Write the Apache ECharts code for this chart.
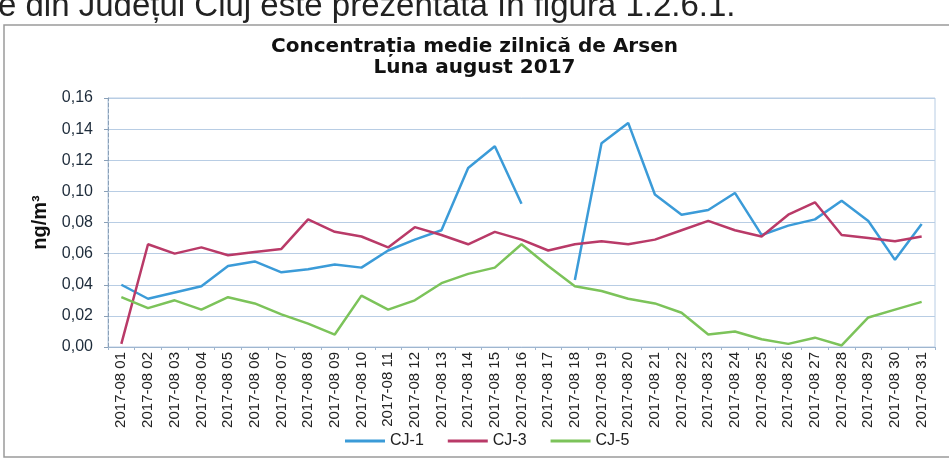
<!DOCTYPE html>
<html>
<head>
<meta charset="utf-8">
<script src="https://cdn.jsdelivr.net/npm/echarts@6/dist/echarts.min.js"></script>
<style>
  html, body { margin: 0; padding: 0; background: #fff; }
  #main { width: 949px; height: 461px; }
</style>
</head>
<body>
<div id="main"></div>
<script>
// date labels on the x axis
var categories = ['2017-08 01', '2017-08 02', '2017-08 03', '2017-08 04', '2017-08 05', '2017-08 06',
    '2017-08 07', '2017-08 08', '2017-08 09', '2017-08 10', '2017-08 11', '2017-08 12', '2017-08 13',
    '2017-08 14', '2017-08 15', '2017-08 16', '2017-08 17', '2017-08 18', '2017-08 19', '2017-08 20',
    '2017-08 21', '2017-08 22', '2017-08 23', '2017-08 24', '2017-08 25', '2017-08 26', '2017-08 27',
    '2017-08 28', '2017-08 29', '2017-08 30', '2017-08 31'];

// concentratii zilnice, ng/m3 (17 lipseste la CJ-1)
var cj1 = [0.040, 0.031, 0.035, 0.039, 0.052, 0.055, 0.048, 0.050, 0.053, 0.051, 0.062, 0.069, 0.075,
    0.115, 0.129, 0.092, null, 0.043, 0.131, 0.144, 0.098, 0.085, 0.088, 0.099, 0.072, 0.078, 0.082,
    0.094, 0.081, 0.056, 0.079];
var cj3 = [0.002, 0.066, 0.060, 0.064, 0.059, 0.061, 0.063, 0.082, 0.074, 0.071, 0.064, 0.077, 0.072,
    0.066, 0.074, 0.069, 0.062, 0.066, 0.068, 0.066, 0.069, 0.075, 0.081, 0.075, 0.071, 0.085, 0.093,
    0.072, 0.070, 0.068, 0.071];
var cj5 = [0.032, 0.025, 0.030, 0.024, 0.032, 0.028, 0.021, 0.015, 0.008, 0.033, 0.024, 0.030, 0.041,
    0.047, 0.051, 0.066, 0.052, 0.039, 0.036, 0.031, 0.028, 0.022, 0.008, 0.010, 0.005, 0.002, 0.006,
    0.001, 0.019, 0.024, 0.029];

var colors = ['#3b9bd8', '#b93a68', '#7cc35a'];

var myChart = echarts.init(document.getElementById('main'));

var option = {
    color: colors,
    animation: false,
    textStyle: { fontFamily: 'Liberation Sans, Arial, sans-serif' },
    graphic: [
        {
            type: 'text',
            style: {
                x: -2,
                y: 7,
                verticalAlign: 'middle',
                text: 'e din Județul Cluj este prezentată în figura 1.2.6.1.',
                font: '33px "Liberation Sans", Arial, sans-serif',
                fill: '#222'
            }
        },
        {
            type: 'rect',
            shape: { x: 4, y: 25, width: 960, height: 432 },
            style: { fill: 'none', stroke: '#9a9a9a', lineWidth: 1.5 }
        }
    ],
    title: {
        left: 'center',
        top: 31,
        text: 'Concentrația medie zilnică de Arsen\nLuna august 2017',
        textStyle: {
            fontSize: 20,
            fontWeight: 'bold',
            lineHeight: 21,
            color: '#111',
            fontFamily: 'DejaVu Sans'
        }
    },
    legend: {
        left: 340,
        top: 428,
        icon: 'rect',
        itemWidth: 40,
        itemHeight: 3,
        itemGap: 24,
        textStyle: { fontSize: 16, color: '#222' },
        data: ['CJ-1', 'CJ-3', 'CJ-5']
    },
    grid: {
        left: 108,
        right: 14,
        top: 98,
        bottom: 114,
        show: true,
        borderColor: '#b8cde4',
        borderWidth: 1
    },
    xAxis: {
        type: 'category',
        boundaryGap: true,
        data: categories,
        axisLine: { lineStyle: { color: '#9fb6cf' } },
        axisTick: { show: true, length: 3, lineStyle: { color: '#9fb6cf' } },
        axisLabel: {
            rotate: 90,
            interval: 0,
            fontSize: 15,
            margin: 5,
            color: '#222'
        }
    },
    yAxis: {
        type: 'value',
        min: 0,
        max: 0.16,
        interval: 0.02,
        name: 'ng/m³',
        nameLocation: 'middle',
        nameRotate: 90,
        nameGap: 58,
        nameTextStyle: { fontSize: 20, fontWeight: 'bold', color: '#111' },
        axisLine: { show: true, lineStyle: { color: '#8aa0b8', type: 'dashed' } },
        axisTick: { show: true, length: 4, lineStyle: { color: '#8aa0b8' } },
        splitLine: { lineStyle: { color: '#b8cde4', width: 1.2 } },
        axisLabel: {
            fontSize: 16,
            margin: 15,
            color: '#1d2b3a',
            formatter: function (v) {
                return v.toFixed(2).replace('.', ',');
            }
        }
    },
    series: [
        {
            name: 'CJ-1',
            type: 'line',
            symbol: 'none',
            connectNulls: false,
            lineStyle: { width: 2.5 },
            data: cj1
        },
        {
            name: 'CJ-3',
            type: 'line',
            symbol: 'none',
            lineStyle: { width: 2.5 },
            data: cj3
        },
        {
            name: 'CJ-5',
            type: 'line',
            symbol: 'none',
            lineStyle: { width: 2.5 },
            data: cj5
        }
    ]
};

myChart.setOption(option);
</script>
</body>
</html>
